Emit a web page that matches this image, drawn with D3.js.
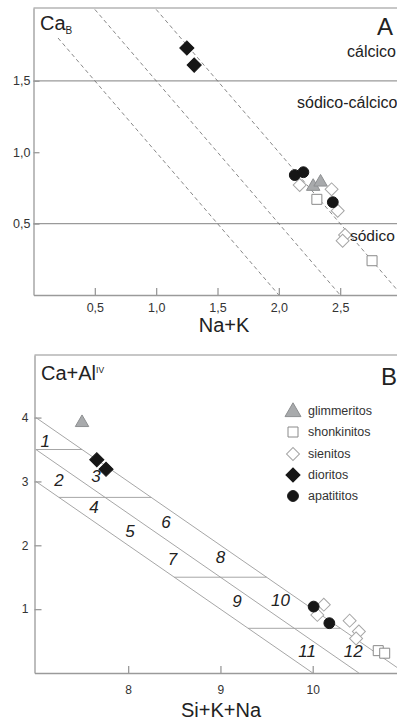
<!DOCTYPE html>
<html>
<head>
<meta charset="utf-8">
<script src="https://cdn.jsdelivr.net/npm/d3@7/dist/d3.min.js"></script>
<style>
  html, body { margin: 0; padding: 0; background: #fff; }
  svg { display: block; font-family: "Liberation Sans", Arial, sans-serif; }
</style>
</head>
<body>
<svg id="chart" width="397" height="722"></svg>
<script>
// ---------- data ----------
const groups = ["glimmeritos", "shonkinitos", "sienitos", "dioritos", "apatititos"];

// Panel A: Na+K (x) vs Ca_B (y)
const aGlimmeritos = [[2.28, 0.76], [2.34, 0.79]];
const aShonkinitos = [[2.31, 0.67], [2.76, 0.24]];
const aSienitos    = [[2.17, 0.77], [2.43, 0.74], [2.48, 0.59], [2.54, 0.42], [2.52, 0.38]];
const aDioritos    = [[1.25, 1.73], [1.31, 1.61]];
const aApatititos  = [[2.13, 0.84], [2.20, 0.86], [2.44, 0.65]];

// Panel B: Si+K+Na (x) vs Ca+Al(IV) (y)
const bGlimmeritos = [[7.50, 3.92]];
const bShonkinitos = [[10.71, 0.35], [10.78, 0.31]];
const bSienitos    = [[10.12, 1.07], [10.05, 0.91], [10.40, 0.82], [10.50, 0.65], [10.47, 0.54]];
const bDioritos    = [[7.66, 3.34], [7.76, 3.19]];
const bApatititos  = [[10.01, 1.04], [10.18, 0.78]];

// Panel A reference lines
const aBoundaries = [0.5, 1.5];                    // Ca_B class limits
const aIsoLines = [[[0.2, 1.8], [2.0, 0]],         // Na+K+Ca_B = 2
                   [[0.5, 2.0], [2.5, 0]],         // = 2.5
                   [[1.0, 2.0], [3.0, 0]]];        // = 3
const aClasses = ["cálcico", "sódico-cálcico", "sódico"];

// Panel B field boundaries
const bDiagonals = [[[7, 4.0], [11, 0]],
                    [[7, 3.5], [10.5, 0]],
                    [[7, 3.0], [10, 0]]];
const bSteps = [[[7, 3.5], [7.5, 3.5]],
                [[7.25, 2.75], [8.25, 2.75]],
                [[8.5, 1.5], [9.5, 1.5]],
                [[9.3, 0.7], [10.3, 0.7]]];
const bFields = ["1", "2", "3", "4", "5", "6", "7", "8", "9", "10", "11", "12"];
const bFieldPos = [[7.1, 3.63], [7.25, 3.02], [7.65, 3.08], [7.63, 2.6], [8.02, 2.22],
                   [8.41, 2.37], [8.48, 1.78], [9.0, 1.81], [9.18, 1.12], [9.65, 1.15],
                   [9.94, 0.35], [10.44, 0.35]];

// Axis ticks
const aXTicks = [0.5, 1.0, 1.5, 2.0, 2.5];
const aYTicks = [0.5, 1.0, 1.5];
const bXTicks = [8, 9, 10];
const bYTicks = [1, 2, 3, 4];

// ---------- drawing ----------
const svg = d3.select("#chart");
const fmt = d3.formatLocale({decimal: ",", thousands: ".", grouping: [3], currency: ["", ""]}).format(".1f");

const axisColor = "#9a9a9a";
const textColor = "#222";

const styles = {
  glimmeritos: {type: d3.symbolTriangle, size: 78,  fill: "#a8aaac", stroke: "#8d8f91", rot: 0},
  shonkinitos: {type: d3.symbolSquare,   size: 100, fill: "#fff",    stroke: "#8a8a8a", rot: 0},
  sienitos:    {type: d3.symbolSquare,   size: 84,  fill: "#fff",    stroke: "#a6a6a6", rot: 45},
  dioritos:    {type: d3.symbolSquare,   size: 100, fill: "#161616", stroke: "#161616", rot: 45},
  apatititos:  {type: d3.symbolCircle,   size: 92,  fill: "#161616", stroke: "#161616", rot: 0}
};

function drawPoints(g, pts, key, x, y) {
  const s = styles[key];
  g.selectAll(null).data(pts).enter().append("path")
    .attr("d", d3.symbol().type(s.type).size(s.size))
    .attr("transform", d => `translate(${x(d[0])},${y(d[1])}) rotate(${s.rot})`)
    .attr("fill", s.fill)
    .attr("stroke", s.stroke)
    .attr("stroke-width", 1);
}

function styleAxis(g, fontSize) {
  g.select(".domain").attr("stroke", axisColor).attr("stroke-width", 1.3);
  g.selectAll(".tick line").attr("stroke", axisColor).attr("stroke-width", 1.3);
  g.selectAll(".tick text").attr("fill", "#333").style("font-size", fontSize + "px")
    .style("font-family", "'Liberation Sans', Arial, sans-serif");
}

// ===== Panel A =====
const ax = d3.scaleLinear().domain([0, 3]).range([33.5, 401.5]);
const ay = d3.scaleLinear().domain([0, 2.01]).range([295, 8]);
const gA = svg.append("g");

// top frame
gA.append("line").attr("x1", ax(0)).attr("x2", ax(3)).attr("y1", ay(2.01)).attr("y2", ay(2.01))
  .attr("stroke", "#b5b5b5").attr("stroke-width", 1.3);

// class limits
gA.selectAll(null).data(aBoundaries).enter().append("line")
  .attr("x1", ax(0)).attr("x2", ax(3)).attr("y1", d => ay(d)).attr("y2", d => ay(d))
  .attr("stroke", axisColor).attr("stroke-width", 1.3);

// dashed iso-lines
gA.selectAll(null).data(aIsoLines).enter().append("line")
  .attr("x1", d => ax(d[0][0])).attr("y1", d => ay(d[0][1]))
  .attr("x2", d => ax(d[1][0])).attr("y2", d => ay(d[1][1]))
  .attr("stroke", "#6a6a6a").attr("stroke-width", 0.8).attr("stroke-dasharray", "4,3");

const gAx = gA.append("g").attr("transform", `translate(0,${ay(0)})`)
  .call(d3.axisBottom(ax).tickValues(aXTicks).tickFormat(fmt).tickSizeInner(-7).tickSizeOuter(0).tickPadding(8));
styleAxis(gAx, 12.5);
const gAy = gA.append("g").attr("transform", `translate(${ax(0)},0)`)
  .call(d3.axisLeft(ay).tickValues(aYTicks).tickFormat(fmt).tickSizeInner(-6).tickSizeOuter(0).tickPadding(3));
styleAxis(gAy, 12.5);

drawPoints(gA, aSienitos, "sienitos", ax, ay);
drawPoints(gA, aShonkinitos, "shonkinitos", ax, ay);
drawPoints(gA, aGlimmeritos, "glimmeritos", ax, ay);
drawPoints(gA, aApatititos, "apatititos", ax, ay);
drawPoints(gA, aDioritos, "dioritos", ax, ay);

// labels
const tA = gA.append("text").attr("x", 40).attr("y", 30).attr("fill", textColor).style("font-size", "20px");
tA.append("tspan").text("Ca");
tA.append("tspan").attr("dy", 4).style("font-size", "10px").text("B");

gA.append("text").attr("x", 393).attr("y", 35).attr("text-anchor", "end")
  .attr("fill", textColor).style("font-size", "24px").text("A");

const classLabelX = [347, 297, 350];
const classLabelY = [57, 108, 241];
gA.selectAll(null).data(aClasses).enter().append("text")
  .attr("x", (d, i) => classLabelX[i]).attr("y", (d, i) => classLabelY[i])
  .attr("fill", textColor).style("font-size", (d, i) => i === 2 ? "15.5px" : "16px").text(d => d);

gA.append("text").attr("x", 224).attr("y", 332).attr("text-anchor", "middle")
  .attr("fill", textColor).style("font-size", "20px").text("Na+K");

// ===== Panel B =====
const bx = d3.scaleLinear().domain([6.985, 11]).range([34.5, 405]);
const by = d3.scaleLinear().domain([0, 4.98]).range([673, 355]);
const gB = svg.append("g");

gB.append("line").attr("x1", bx(6.985)).attr("x2", bx(11)).attr("y1", by(4.98)).attr("y2", by(4.98))
  .attr("stroke", "#b5b5b5").attr("stroke-width", 1.3);

gB.selectAll(null).data(bDiagonals.concat(bSteps)).enter().append("line")
  .attr("x1", d => bx(d[0][0])).attr("y1", d => by(d[0][1]))
  .attr("x2", d => bx(d[1][0])).attr("y2", d => by(d[1][1]))
  .attr("stroke", "#9c9c9c").attr("stroke-width", 0.9);

const gBx = gB.append("g").attr("transform", `translate(0,${by(0)})`)
  .call(d3.axisBottom(bx).tickValues(bXTicks).tickFormat(d3.format("d")).tickSizeInner(-7).tickSizeOuter(0).tickPadding(12));
styleAxis(gBx, 12);
const gBy = gB.append("g").attr("transform", `translate(${bx(6.985)},0)`)
  .call(d3.axisLeft(by).tickValues(bYTicks).tickFormat(d3.format("d")).tickSizeInner(-7).tickSizeOuter(0).tickPadding(6));
styleAxis(gBy, 12);

gB.selectAll(null).data(bFields).enter().append("text")
  .attr("x", (d, i) => bx(bFieldPos[i][0])).attr("y", (d, i) => by(bFieldPos[i][1]))
  .attr("text-anchor", "middle").attr("dy", "0.35em")
  .attr("fill", textColor).style("font-size", "17px").style("font-style", "italic").text(d => d);

drawPoints(gB, bSienitos, "sienitos", bx, by);
drawPoints(gB, bShonkinitos, "shonkinitos", bx, by);
drawPoints(gB, bGlimmeritos, "glimmeritos", bx, by);
drawPoints(gB, bApatititos, "apatititos", bx, by);
drawPoints(gB, bDioritos, "dioritos", bx, by);

const tB = gB.append("text").attr("x", 41).attr("y", 380).attr("fill", textColor).style("font-size", "20px");
tB.append("tspan").text("Ca+Al");
tB.append("tspan").attr("dy", -7).style("font-size", "8.5px").text("IV");

gB.append("text").attr("x", 381).attr("y", 385).attr("fill", textColor).style("font-size", "24px").text("B");

gB.append("text").attr("x", 221).attr("y", 717).attr("text-anchor", "middle")
  .attr("fill", textColor).style("font-size", "20px").text("Si+K+Na");

// legend
const legendY = [411, 432, 454, 475, 496];
const lg = gB.append("g");
groups.forEach((key, i) => {
  const s = styles[key];
  const big = key === "glimmeritos" ? 110 : s.size;
  lg.append("path")
    .attr("d", d3.symbol().type(s.type).size(big))
    .attr("transform", `translate(293,${legendY[i] + (key === "glimmeritos" ? 1 : 0)}) rotate(${s.rot})`)
    .attr("fill", s.fill).attr("stroke", s.stroke).attr("stroke-width", 1);
  lg.append("text").attr("x", 308).attr("y", legendY[i]).attr("dy", "0.35em")
    .attr("fill", "#333").style("font-size", "12.5px").text(key);
});
</script>
</body>
</html>
